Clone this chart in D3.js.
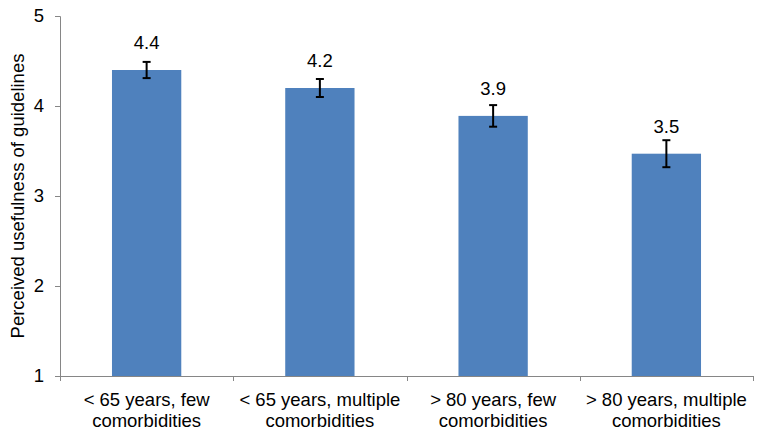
<!DOCTYPE html>
<html>
<head>
<meta charset="utf-8">
<script src="https://cdn.jsdelivr.net/npm/d3@7"></script>
<style>
  body { margin: 0; background: #fff; }
  text { font-family: "Liberation Sans", Arial, sans-serif; fill: #000; }
</style>
</head>
<body>
<div id="chart"></div>
<script>
// data
var categories = [
  ["< 65 years, few", "comorbidities"],
  ["< 65 years, multiple", "comorbidities"],
  ["> 80 years, few", "comorbidities"],
  ["> 80 years, multiple", "comorbidities"]
];
var means = [4.4, 4.2, 3.89, 3.47];
var errors = [0.09, 0.1, 0.12, 0.15];
var yTicks = [1, 2, 3, 4, 5];
var yTitle = "Perceived usefulness of guidelines";

var W = 763, H = 435;
var margin = {left: 60, right: 10, top: 16, bottom: 59};
var fs = '18.5px';

var svg = d3.select('#chart').append('svg')
  .attr('width', W).attr('height', H);

var x = d3.scaleBand()
  .domain(d3.range(categories.length))
  .range([margin.left, W - margin.right])
  .paddingInner(0.6).paddingOuter(0.3);

var y = d3.scaleLinear()
  .domain([1, 5])
  .range([H - margin.bottom, margin.top]);

var axisColor = '#868686';

// y axis
var yAxis = svg.append('g')
  .attr('transform', 'translate(' + margin.left + ',0)')
  .call(d3.axisLeft(y).tickValues(yTicks).tickSize(5).tickPadding(11).tickFormat(d3.format('d')));
yAxis.select('.domain').attr('stroke', axisColor);
yAxis.selectAll('.tick line').attr('stroke', axisColor);
yAxis.selectAll('.tick text').style('font-size', fs).attr('fill', '#000');

// x axis, ticks between categories
var xBounds = d3.range(categories.length + 1).map(function(i) { return margin.left + i * (W - margin.right - margin.left) / categories.length; });
svg.append('line')
  .attr('x1', margin.left).attr('x2', W - margin.right)
  .attr('y1', y(1) + 0.5).attr('y2', y(1) + 0.5)
  .attr('stroke', axisColor);
svg.selectAll('.xtick')
  .data(xBounds)
  .join('line')
  .attr('class', 'xtick')
  .attr('x1', d => Math.round(d) + 0.5).attr('x2', d => Math.round(d) + 0.5)
  .attr('y1', y(1)).attr('y2', y(1) + 5)
  .attr('stroke', axisColor);

// category labels
var catText = svg.selectAll('.cat')
  .data(categories)
  .join('text')
  .attr('class', 'cat')
  .attr('text-anchor', 'middle')
  .style('font-size', fs);
catText.selectAll('tspan')
  .data(d => d)
  .join('tspan')
  .attr('x', function() { var i = categories.indexOf(d3.select(this.parentNode).datum()); return x(i) + x.bandwidth() / 2; })
  .attr('y', (d, i) => 406 + i * 21)
  .text(d => d);

// bars
svg.selectAll('.bar')
  .data(means)
  .join('rect')
  .attr('class', 'bar')
  .attr('x', (d, i) => x(i))
  .attr('width', x.bandwidth())
  .attr('y', d => y(d))
  .attr('height', d => y(1) - y(d))
  .attr('fill', '#4F81BD');

// error bars
var eb = svg.selectAll('.err')
  .data(means)
  .join('g')
  .attr('class', 'err')
  .attr('stroke', '#000')
  .attr('stroke-width', 2);
eb.append('line')
  .attr('x1', (d, i) => x(i) + x.bandwidth() / 2)
  .attr('x2', (d, i) => x(i) + x.bandwidth() / 2)
  .attr('y1', (d, i) => y(d + errors[i]))
  .attr('y2', (d, i) => y(d - errors[i]));
eb.append('line')
  .attr('x1', (d, i) => x(i) + x.bandwidth() / 2 - 4)
  .attr('x2', (d, i) => x(i) + x.bandwidth() / 2 + 4)
  .attr('y1', (d, i) => y(d + errors[i]))
  .attr('y2', (d, i) => y(d + errors[i]));
eb.append('line')
  .attr('x1', (d, i) => x(i) + x.bandwidth() / 2 - 4)
  .attr('x2', (d, i) => x(i) + x.bandwidth() / 2 + 4)
  .attr('y1', (d, i) => y(d - errors[i]))
  .attr('y2', (d, i) => y(d - errors[i]));

// value labels
svg.selectAll('.val')
  .data(means)
  .join('text')
  .attr('class', 'val')
  .attr('text-anchor', 'middle')
  .style('font-size', fs)
  .attr('x', (d, i) => x(i) + x.bandwidth() / 2)
  .attr('y', d => y(d) - 21)
  .text(d => d3.format('.1f')(d));

// y title
svg.append('text')
  .attr('transform', 'translate(24,' + ((y(1) + y(5)) / 2) + ') rotate(-90)')
  .attr('text-anchor', 'middle')
  .style('font-size', fs)
  .text(yTitle);
</script>
</body>
</html>
